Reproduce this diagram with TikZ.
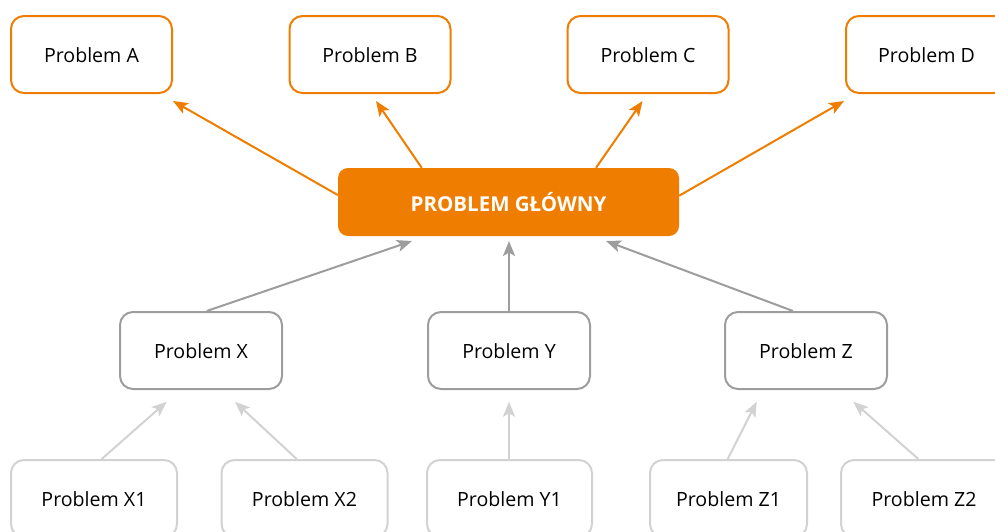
\documentclass[tikz,border=0pt]{standalone}
\usepackage{fontspec}
\setmainfont{Open Sans}
\usetikzlibrary{arrows.meta}
\definecolor{orng}{HTML}{EF7D00}
\definecolor{gmid}{HTML}{9D9D9D}
\definecolor{glight}{HTML}{D2D2D2}
\begin{document}
\begin{tikzpicture}[x=1pt,y=-1pt,
  box/.style={draw,line width=2pt,rounded corners=13pt,minimum height=77pt,inner sep=0pt,
    text height=19pt,text depth=4pt,
    font=\fontsize{19.6}{23}\selectfont,text=black},
  topbox/.style={box,draw=orng,minimum width=161pt},
  midbox/.style={box,draw=gmid,minimum width=162pt},
  lowbox/.style={box,draw=glight,minimum width=166pt},
  mainbox/.style={fill=orng,draw=none,rounded corners=10pt,minimum width=341pt,minimum height=68pt,
    inner sep=0pt,text=white,font=\fontsize{20.5}{24}\selectfont\bfseries},
  tip/.style={-{Stealth[length=15pt,width=12pt,inset=3.5pt]}},
  oarr/.style={tip,draw=orng,fill=orng,line width=2pt},
  garr/.style={tip,draw=gmid,fill=gmid,line width=2pt},
  larr/.style={tip,draw=glight,fill=glight,line width=2pt}]
\useasboundingbox (0,0) rectangle (995,531);
\clip (0,0) rectangle (995,531);
\node[topbox] (A) at (91.5,54.5) {Problem A};
\node[topbox] (B) at (370,54.5) {Problem B};
\node[topbox] (C) at (648,54.5) {Problem C};
\node[topbox] (D) at (926.5,54.5) {Problem D};
\node[mainbox] (M) at (508.5,202) {PROBLEM GŁÓWNY};
\node[midbox] (X) at (201,350.5) {Problem X};
\node[midbox] (Y) at (509,350.5) {Problem Y};
\node[midbox] (Z) at (806,350.5) {Problem Z};
\node[lowbox] (X1) at (94,498.5) {Problem X1};
\node[lowbox] (X2) at (304.5,498.5) {Problem X2};
\node[lowbox,minimum width=165pt] (Y1) at (509.5,498.5) {Problem Y1};
\node[lowbox,minimum width=157pt] (Z1) at (728.5,498.5) {Problem Z1};
\node[lowbox] (Z2) at (924,498.5) {Problem Z2};
% coordinates for arrow tips
\coordinate (tA) at (173,101);
\coordinate (tB) at (376,101);
\coordinate (tC) at (642.5,101);
\coordinate (tD) at (844,101);
\coordinate (tMX) at (412,241);
\coordinate (tMY) at (509,241);
\coordinate (tMZ) at (606,241);
\coordinate (tX1) at (166.7,401.7);
\coordinate (tX2) at (235,401.7);
\coordinate (tY1) at (509,401.7);
\coordinate (tZ1) at (756.7,401.7);
\coordinate (tZ2) at (853.3,401.7);
\draw[oarr] (M.west |- 0,195) -- (tA);
\draw[oarr] (421.7,0 |- M.north) -- (tB);
\draw[oarr] (596,0 |- M.north) -- (tC);
\draw[oarr] (M.east |- 0,195.7) -- (tD);
\draw[garr] (206.7,0 |- X.north) -- (tMX);
\draw[garr] (Y.north) -- (tMY);
\draw[garr] (793,0 |- Z.north) -- (tMZ);
\draw[larr] (101.7,0 |- X1.north) -- (tX1);
\draw[larr] (296.7,0 |- X2.north) -- (tX2);
\draw[larr] (509,0 |- Y1.north) -- (tY1);
\draw[larr] (727.7,0 |- Z1.north) -- (tZ1);
\draw[larr] (918.3,0 |- Z2.north) -- (tZ2);
\end{tikzpicture}
\end{document}
